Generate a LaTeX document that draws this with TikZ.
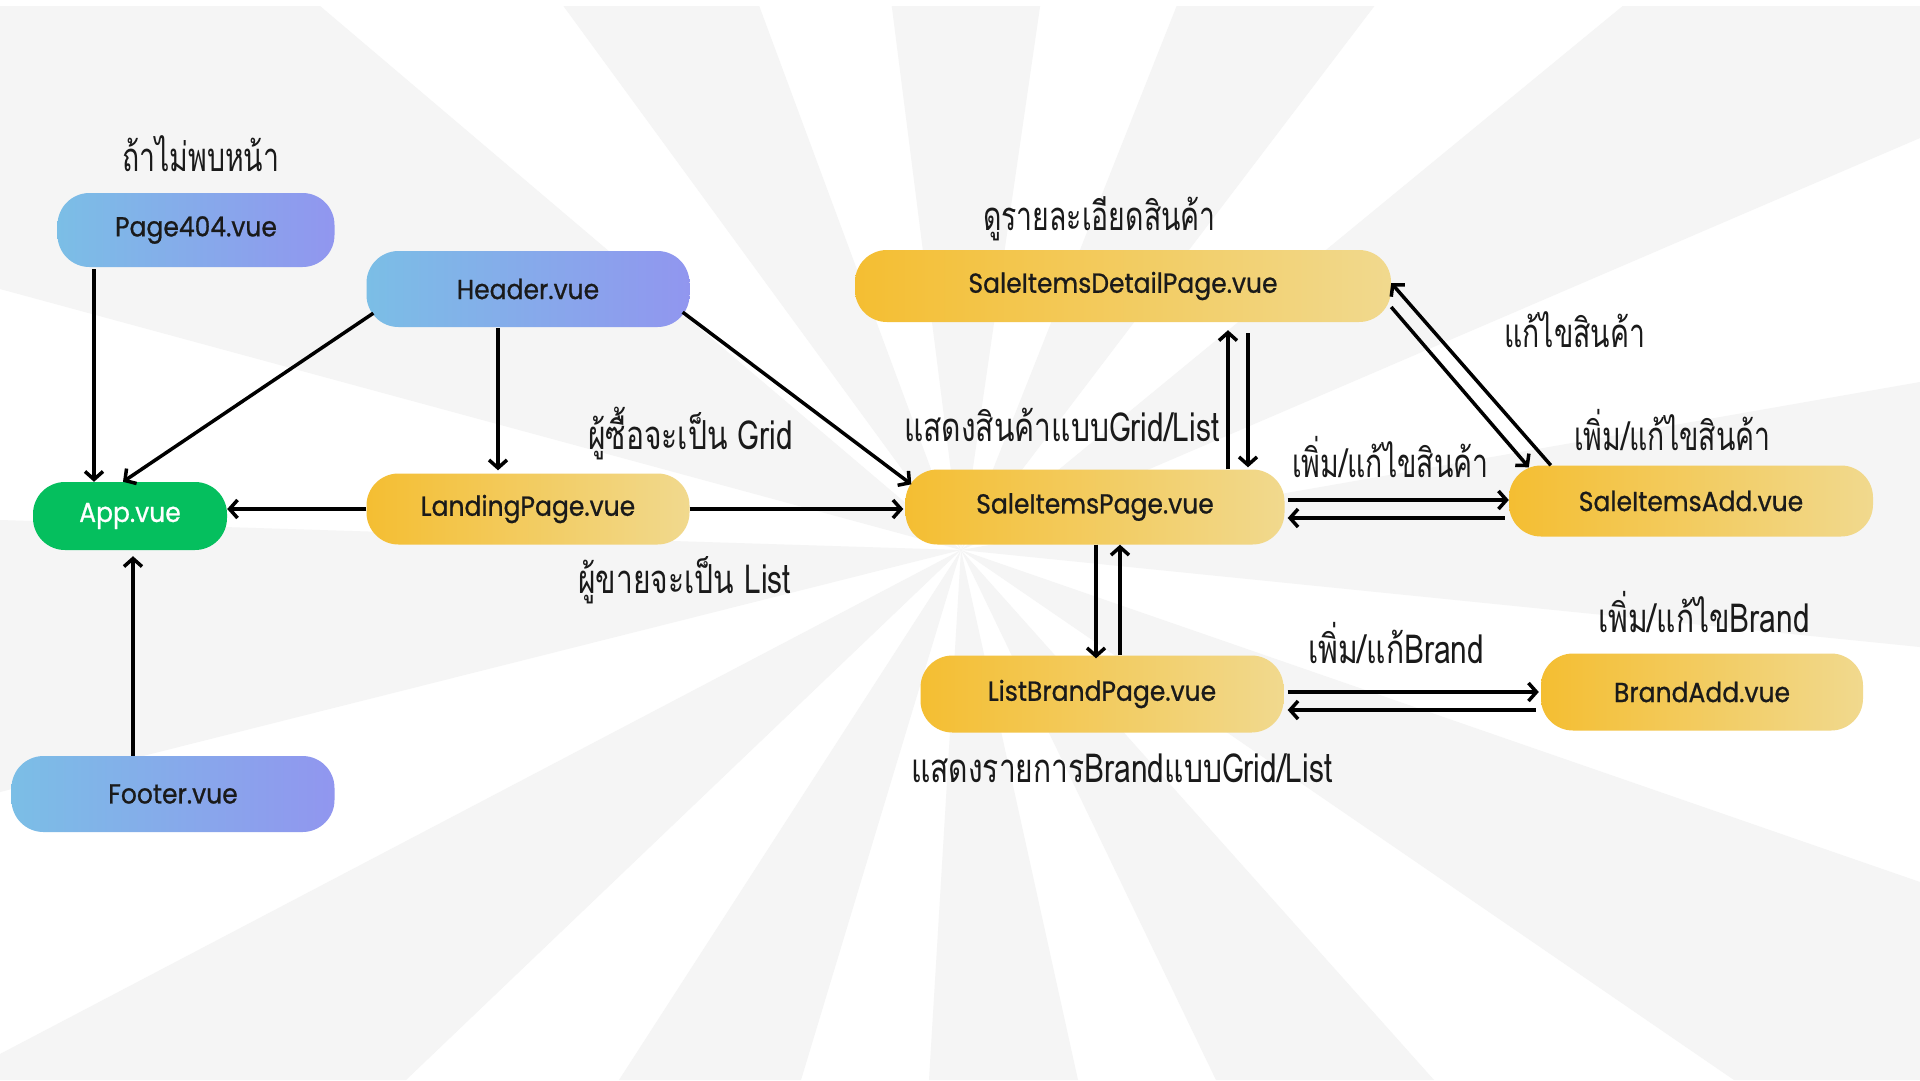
\documentclass[tikz,border=0pt]{standalone}
\usepackage{fontspec}
\setmainfont{Poppins}
\newfontfamily\nodefont{Poppins}[FakeBold=0.8,FakeStretch=0.91]
\newfontfamily\thai[Script=Thai,FakeStretch=0.75]{Loma}
\newfontfamily\thaic[Script=Thai,FakeStretch=0.71]{Loma}
\usetikzlibrary{arrows.meta,calc}
\definecolor{raygrey}{HTML}{F5F5F5}
\definecolor{blueL}{HTML}{7BBEE6}
\definecolor{blueR}{HTML}{9196EF}
\definecolor{yelL}{HTML}{F4BE32}
\definecolor{yelR}{HTML}{F1D98E}
\definecolor{appgreen}{HTML}{05BF5E}
\definecolor{ink}{HTML}{1A1A1A}
\tikzset{
  pill/.style={rounded corners=32pt, inner sep=0pt, font=\nodefont\fontsize{27.5}{32}\selectfont, text=ink},
  bluepill/.style={pill, left color=blueL, right color=blueR},
  yelpill/.style={pill, left color=yelL, right color=yelR},
  greenpill/.style={pill, fill=appgreen, text=white},
  lbl/.style={font=\thai\fontsize{40}{44}\selectfont, text=ink, inner sep=0pt, anchor=base west},
  lblt/.style={lbl, font=\thaic\fontsize{40}{44}\selectfont},
  arr/.style={line width=3.5pt, draw=black, -{Straight Barb[length=8pt,width=18pt,line width=3.5pt]}},
}
\begin{document}
\begin{tikzpicture}[x=1pt,y=-1pt]
\useasboundingbox (0,0) rectangle (1920,1080);
% background sunburst
\fill[white] (0,0) rectangle (1920,1080);
\coordinate (C) at (961,550);
\fill[raygrey] (C) -- (0,289) -- (0,0) -- (313,0) -- cycle;
\fill[raygrey] (C) -- (559,0) -- (757,0) -- cycle;
\fill[raygrey] (C) -- (891,0) -- (1041,0) -- cycle;
\fill[raygrey] (C) -- (1179,0) -- (1379,0) -- cycle;
\fill[raygrey] (C) -- (1630,0) -- (1920,0) -- (1920,138) -- cycle;
\fill[raygrey] (C) -- (1920,382) -- (1920,647) -- cycle;
\fill[raygrey] (C) -- (1920,882) -- (1920,1080) -- (1734,1080) -- cycle;
\fill[raygrey] (C) -- (1434,1080) -- (1216,1080) -- cycle;
\fill[raygrey] (C) -- (1078,1080) -- (929,1080) -- cycle;
\fill[raygrey] (C) -- (801,1080) -- (619,1080) -- cycle;
\fill[raygrey] (C) -- (406,1080) -- (0,1080) -- (0,1054) -- cycle;
\fill[raygrey] (C) -- (0,792) -- (0,520) -- cycle;
\fill[white] (0,0) rectangle (1920,6);
% nodes
\node[bluepill, minimum width=277pt, minimum height=74pt] (p404) at (196,230) {Page404.vue};
\node[bluepill, minimum width=323pt, minimum height=76pt] (hdr) at (528,289) {Header.vue};
\node[greenpill, minimum width=194pt, minimum height=68pt] (app) at (130,516) {App.vue};
\node[bluepill, minimum width=323pt, minimum height=76pt] (ftr) at (173,794) {Footer.vue};
\node[yelpill, minimum width=323pt, minimum height=71pt] (land) at (528,509) {LandingPage.vue};
\node[yelpill, minimum width=379pt, minimum height=75pt] (sip) at (1095,507) {SaleItemsPage.vue};
\node[yelpill, minimum width=536pt, minimum height=72pt] (sdp) at (1123,286) {SaleItemsDetailPage.vue};
\node[yelpill, minimum width=364pt, minimum height=71pt] (sia) at (1691,501) {SaleItemsAdd.vue};
\node[yelpill, minimum width=363pt, minimum height=77pt] (lbp) at (1102,694) {ListBrandPage.vue};
\node[yelpill, minimum width=322pt, minimum height=77pt] (bad) at (1702,692) {BrandAdd.vue};
% labels
\node[lblt] (l1) at (122,171) {ถ้าไม่พบหน้า};
\node[lbl] (l2) at (588,449) {ผู้ซื้อจะเป็น Grid};
\node[lbl] (l3) at (578,593) {ผู้ขายจะเป็น List};
\node[lblt] (l4) at (983,230) {ดูรายละเอียดสินค้า};
\node[lbl] (l5) at (904,441) {แสดงสินค้าแบบGrid/List};
\node[lblt] (l6) at (1504,347) {แก้ไขสินค้า};
\node[lblt] (l7) at (1292,477) {เพิ่ม/แก้ไขสินค้า};
\node[lblt] (l8) at (1574,450) {เพิ่ม/แก้ไขสินค้า};
\node[lbl] (l9) at (1308,663) {เพิ่ม/แก้Brand};
\node[lbl] (l10) at (1598,632) {เพิ่ม/แก้ไขBrand};
\node[lbl] (l11) at (911,782) {แสดงรายการBrandแบบGrid/List};
% connectors
\draw[arr] ($(p404.south)+(-102,2)$) -- ($(app.north)+(-36,0)$);
\draw[arr] ($(hdr.south west)+(7,-14)$) -- ($(app.north)+(-7,0)$);
\draw[arr] ($(hdr.south)+(-30,1)$) -- ($(land.north)+(-30,-3)$);
\draw[arr] (land.west) -- (land.west -| app.east);
\draw[arr] (land.east) -- ($(land.east -| sip.west)+(-2,0)$);
\draw[arr] ($(hdr.south east)+(-7,-15)$) -- ($(sip.north west)+(6,15)$);
\draw[arr] ($(sip.north)+(133,0)$) -- ($(sdp.south)+(105,8)$);
\draw[arr] ($(sdp.south)+(125,11)$) -- ($(sip.north)+(153,-2)$);
\draw[arr] ($(sia.north west)+(42,0)$) -- ($(sdp.east)+(0,-3)$);
\draw[arr] ($(sdp.east)+(0,21)$) -- ($(sia.north west)+(20,2)$);
\draw[arr] ($(sip.east)+(3,-7)$) -- ($(sia.west)+(0,-1)$);
\draw[arr] ($(sia.west)+(-4,17)$) -- ($(sip.east)+(3,11)$);
\draw[arr] ($(sip.south)+(1,0)$) -- ($(lbp.north)+(-6,3)$);
\draw[arr] ($(lbp.north)+(18,0)$) -- ($(sip.south)+(25,0)$);
\draw[arr] ($(lbp.east)+(4,-2)$) -- ($(bad.west)+(-2,0)$);
\draw[arr] ($(bad.west)+(-5,18)$) -- ($(lbp.east)+(4,16)$);
\draw[arr] ($(ftr.north)+(-40,0)$) -- ($(app.south)+(3,6)$);
\end{tikzpicture}
\end{document}
